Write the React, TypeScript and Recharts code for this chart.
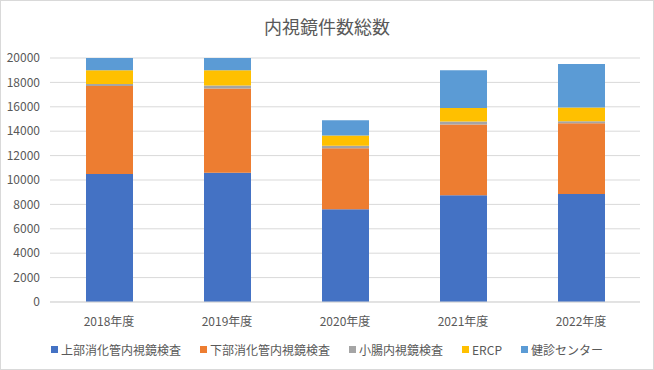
import { BarChart, Bar, XAxis, YAxis, CartesianGrid, Legend } from 'recharts';

const years = ['2018年度', '2019年度', '2020年度', '2021年度', '2022年度'];
const upperGI = [10500, 10600, 7600, 8750, 8850];
const lowerGI = [7200, 6900, 5000, 5800, 5800];
const smallIntestine = [170, 250, 200, 250, 170];
const ercp = [1130, 1250, 850, 1100, 1130];
const healthCenter = [1000, 1000, 1250, 3100, 3550];
const yTicks = [0, 2000, 4000, 6000, 8000, 10000, 12000, 14000, 16000, 18000, 20000];

const SERIES = [
  { key: 'upper', name: '上部消化管内視鏡検査', color: '#4472c4' },
  { key: 'lower', name: '下部消化管内視鏡検査', color: '#ed7d31' },
  { key: 'small', name: '小腸内視鏡検査', color: '#a5a5a5' },
  { key: 'ercp', name: 'ERCP', color: '#ffc000' },
  { key: 'health', name: '健診センター', color: '#5b9bd5' },
];

const data = years.map((y, i) => ({
  year: y,
  upper: upperGI[i],
  lower: lowerGI[i],
  small: smallIntestine[i],
  ercp: ercp[i],
  health: healthCenter[i],
}));

const FONT = '"Noto Sans CJK JP", "Noto Sans", sans-serif';
const TEXT = '#595959';

function LegendBox() {
  return (
    <div style={{ display: 'flex', justifyContent: 'center', gap: 19, fontFamily: FONT, fontSize: 12, color: TEXT }}>
      {SERIES.map(s => (
        <div key={s.key} style={{ display: 'flex', alignItems: 'center' }}>
          <span style={{ width: 7, height: 7, background: s.color, display: 'inline-block', marginRight: 3 }} />
          <span>{s.name}</span>
        </div>
      ))}
    </div>
  );
}

export default function App() {
  return (
    <div style={{ position: 'absolute', left: 0, top: 0, width: 654, height: 370, boxSizing: 'border-box', border: '1px solid #d9d9d9', background: '#fff' }}>
      <div style={{ position: 'absolute', top: 12, left: 0, width: 652, textAlign: 'center', fontFamily: FONT, fontSize: 18, color: TEXT }}>
        内視鏡件数総数
      </div>
      <div style={{ position: 'absolute', left: -1, top: -1 }}>
        <BarChart width={654} height={370} data={data} margin={{ top: 58, right: 14, left: 0, bottom: 34 }} barSize={47}>
          <CartesianGrid vertical={false} stroke="#d9d9d9" />
          <XAxis dataKey="year" axisLine={{ stroke: '#d9d9d9' }} tickLine={false} height={34} tick={{ fill: TEXT, fontSize: 12, fontFamily: FONT }} tickMargin={9} />
          <YAxis domain={[0, 20000]} ticks={yTicks} width={50} axisLine={false} tickLine={false} interval={0} tick={{ fill: TEXT, fontSize: 12, fontFamily: FONT }} tickMargin={4} />
          <Legend verticalAlign="middle" content={<LegendBox />} wrapperStyle={{ top: 341, left: 0, width: 654 }} />
          {SERIES.map(s => (
            <Bar key={s.key} dataKey={s.key} name={s.name} stackId="a" fill={s.color} isAnimationActive={false} />
          ))}
        </BarChart>
      </div>
    </div>
  );
}
